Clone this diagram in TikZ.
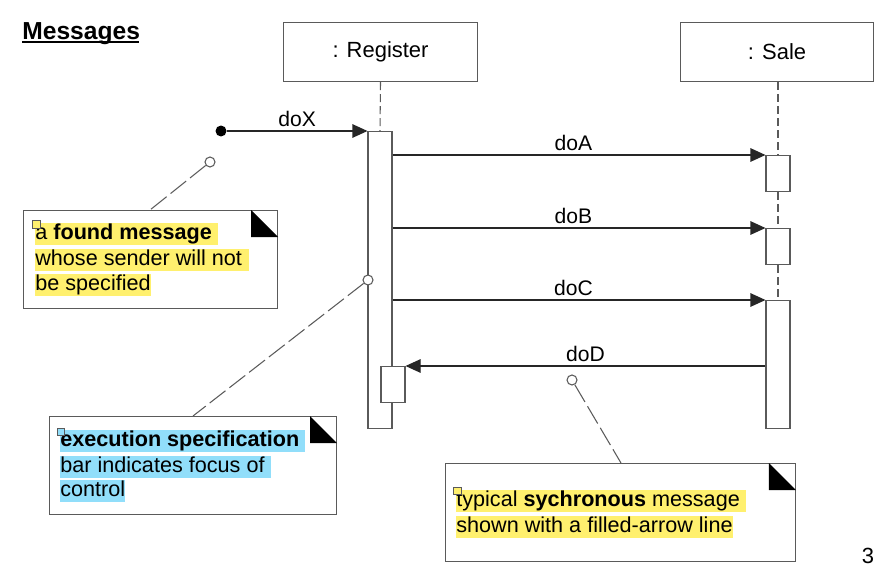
\documentclass[tikz,border=0pt]{standalone}
\usepackage{fontspec}
\setmainfont{Liberation Sans}
\definecolor{LineGray}{RGB}{90,90,90}
\definecolor{NoteYellow}{RGB}{255,240,110}
\definecolor{NoteBlue}{RGB}{145,222,250}
\usetikzlibrary{arrows.meta, positioning, calc}
\tikzset{
    lifebox/.style={
        draw=LineGray,
        line width=0.6pt,
        minimum height=1.18cm,
        inner sep=0pt,
        font=\fontsize{12.5}{15}\selectfont
    },
    actbar/.style={draw=LineGray, fill=white, line width=0.6pt, minimum width=0.48cm, inner sep=0pt},
    lifeline/.style={draw=LineGray, line width=0.6pt, dash pattern=on 0.16cm off 0.08cm},
    notebox/.style={draw=LineGray, fill=white, line width=0.6pt, minimum height=1.96cm, inner sep=0pt, anchor=north west},
    notepin/.style={circle, draw=LineGray, fill=white, line width=0.6pt, minimum size=0.2cm, inner sep=0pt},
    notelink/.style={draw=LineGray, line width=0.6pt, dash pattern=on 0.4cm off 0.1cm}
}
\begin{document}
\begin{tikzpicture}[
            x=0.02cm, y=-0.02cm,
            msg/.style={-{Triangle[length=0.3cm, width=0.27cm]}, line width=0.6pt, draw=black!85},
            msglabel/.style={above, inner sep=2pt, font=\fontsize{12}{14}\selectfont},
            hiline/.style={anchor=base west, inner xsep=0pt, inner ysep=0pt, text height=0.32cm, text depth=0.11cm, font=\fontsize{12.3}{14}\selectfont},
            fold/.style={fill=black}
        ]
            \useasboundingbox (0,0) rectangle (875,571);

            % Title
            \node[anchor=base west, inner sep=0pt, font=\fontsize{14}{16}\selectfont\bfseries] (title) at (22,40)
                {\makebox[0pt][l]{\rule[-0.06cm]{2.34cm}{0.04cm}}Messages};

            % Nodes
            \node[lifebox, minimum width=3.88cm, anchor=north west] (register) at (283,22) {: Register};
            \node[lifebox, minimum width=3.86cm, anchor=north west] (sale) at (680,22) {: Sale};
            \node[actbar, minimum height=5.94cm, anchor=north] (regbar) at (380,131) {};
            \node[actbar, minimum height=0.72cm, anchor=north] (saleA) at (778,155) {};
            \node[actbar, minimum height=0.72cm, anchor=north] (saleB) at (778,228) {};
            \node[actbar, minimum height=2.56cm, anchor=north] (saleC) at (778,300) {};
            \node[actbar, minimum height=0.72cm, anchor=north] (nested) at (393,366) {};
            \node[circle, fill=black, minimum size=0.22cm, inner sep=0pt] (found) at (221,131) {};

            % Lifelines
            \draw[lifeline] (register.south) -- (regbar.north);
            \draw[lifeline] (sale.south -| saleA.north) -- (saleA.north);
            \draw[lifeline] (saleA.south) -- (saleB.north);
            \draw[lifeline] (saleB.south) -- (saleC.north);

            % Arrows
            \draw[msg] (found) -- node[msglabel] {doX} (regbar.north west);
            \draw[msg] (regbar.east |- saleA.north) -- node[msglabel, pos=0.485] {doA} (saleA.north west);
            \draw[msg] (regbar.east |- saleB.north) -- node[msglabel, pos=0.485] {doB} (saleB.north west);
            \draw[msg] (regbar.east |- saleC.north) -- node[msglabel, pos=0.485] {doC} (saleC.north west);
            \draw[msg] (saleC.west |- nested.north) -- node[msglabel] {doD} (nested.north east);

            % Notes
            \node[notebox, minimum width=5.08cm] (foundnote) at (23,210) {};
            \fill[fold] (foundnote.north east) ++(-27,0) -- ++(0,27) -- ++(27,0) -- cycle;
            \node[hiline, fill=NoteYellow] (found1) at (35,239) {a \textbf{found message}\kern0.12cm};
            \node[hiline, fill=NoteYellow] (found2) at (35,265) {whose sender will not\kern0.14cm};
            \node[hiline, fill=NoteYellow] (found3) at (35,290) {be specified};
            \filldraw[fill=NoteYellow, draw=LineGray, line width=0.4pt] (32,220) rectangle (40,228);

            \node[notebox, minimum width=5.74cm] (execnote) at (49,416) {};
            \fill[fold] (execnote.north east) ++(-27,0) -- ++(0,27) -- ++(27,0) -- cycle;
            \node[hiline, fill=NoteBlue] (exec1) at (60,446) {\textbf{execution specification}\kern0.12cm};
            \node[hiline, fill=NoteBlue] (exec2) at (60,472) {bar indicates focus of\kern0.12cm};
            \node[hiline, fill=NoteBlue] (exec3) at (60,496) {control};
            \filldraw[fill=NoteBlue, draw=LineGray, line width=0.4pt] (57,428) rectangle (64,435);

            \node[notebox, minimum width=7cm] (syncnote) at (445,463) {};
            \fill[fold] (syncnote.north east) ++(-27,0) -- ++(0,27) -- ++(27,0) -- cycle;
            \node[hiline, fill=NoteYellow] (sync1) at (456,506) {typical \textbf{sychronous} message\kern0.12cm};
            \node[hiline, fill=NoteYellow] (sync2) at (456,532) {shown with a filled-arrow line};
            \filldraw[fill=NoteYellow, draw=LineGray, line width=0.4pt] (453,487) rectangle (461,494);

            % Note links
            \node[notepin] (foundpin) at (210,162) {};
            \node[notepin] (execpin) at (368,280) {};
            \node[notepin] (syncpin) at (572,380) {};
            \coordinate (foundtie) at (150,210);
            \coordinate (exectie) at (193,416);
            \coordinate (synctie) at (621,463);
            \draw[notelink] (foundpin) -- (foundtie);
            \draw[notelink] (execpin) -- (exectie);
            \draw[notelink] (syncpin) -- (synctie);

            % Page number
            \node[font=\fontsize{12.5}{15}\selectfont] (pagenum) at (868,556) {3};
        \end{tikzpicture}
\end{document}
